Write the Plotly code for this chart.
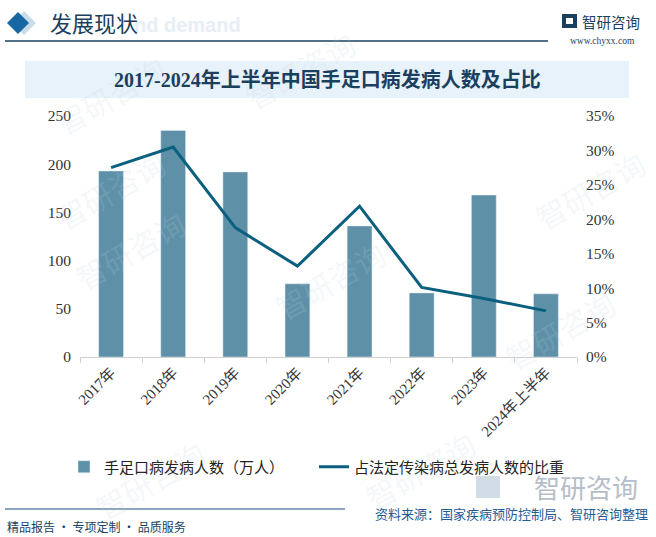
import plotly.graph_objects as go

categories = ["2017年", "2018年", "2019年", "2020年", "2021年", "2022年", "2023年", "2024年上半年"]
cases_10k = [193, 235, 192, 76, 136, 66.5, 168, 65.5]
share_pct = [0.275, 0.305, 0.188, 0.132, 0.219, 0.101, 0.085, 0.067]
left_ticks = [0, 50, 100, 150, 200, 250]
right_ticks = [0, 0.05, 0.10, 0.15, 0.20, 0.25, 0.30, 0.35]

W, H = 656, 537
L, R, T, B = 80, 577, 116, 357

def px(x):
    return (x - L) / (R - L)

def py(y):
    return (B - y) / (B - T)

SERIF = "Liberation Serif, Noto Sans CJK SC"
CJK = "Noto Sans CJK SC, Noto Sans"

fig = go.Figure()
fig.add_trace(go.Bar(
    x=categories, y=cases_10k, name="手足口病发病人数（万人）",
    marker=dict(color="#5E91A8"), yaxis="y",
))
fig.add_trace(go.Scatter(
    x=categories, y=share_pct, name="占法定传染病总发病人数的比重",
    mode="lines", line=dict(color="#0B5F7F", width=3), yaxis="y2",
))

shapes = []
annotations = []

def ann(x, y, text, size, color, family=CJK, xanchor="center", angle=0):
    annotations.append(dict(xref="paper", yref="paper", x=px(x), y=py(y), text=text, showarrow=False,
                            xanchor=xanchor, yanchor="middle", textangle=angle,
                            font=dict(family=family, size=size, color=color)))

# faint watermarks
wm = [(110, 95), (300, 70), (590, 190), (130, 250), (330, 280), (560, 330), (150, 480), (420, 470), (110, 190)]
for (x, y) in wm:
    ann(x, y, "智研咨询", 30, "rgba(190,210,228,0.16)", angle=-30)

# header
shapes.append(dict(type="path", xref="paper", yref="paper", layer="above",
                   path="M {} {} L {} {} L {} {} L {} {} Z".format(px(24), py(11), px(36), py(23), px(24), py(35), px(12), py(23)),
                   fillcolor="#c9dcea", line=dict(width=0)))
shapes.append(dict(type="path", xref="paper", yref="paper", layer="above",
                   path="M {} {} L {} {} L {} {} L {} {} Z".format(px(18), py(12), px(29), py(23), px(18), py(34), px(7), py(23)),
                   fillcolor="#1768A2", line=dict(width=0)))
ann(132, 25, "<b>nd demand</b>", 20, "#e6eef6", family="Liberation Sans", xanchor="left")
ann(48, 22, "发展现状", 22, "#1B3F5E", xanchor="left")
shapes.append(dict(type="line", xref="paper", yref="paper", x0=px(5), x1=px(548), y0=py(41), y1=py(41),
                   line=dict(color="#1B3F5E", width=1.5)))
# logo
shapes.append(dict(type="rect", xref="paper", yref="paper", x0=px(562), x1=px(577), y0=py(14), y1=py(28),
                   fillcolor="#1B3F5E", line=dict(width=0)))
shapes.append(dict(type="rect", xref="paper", yref="paper", x0=px(566), x1=px(573), y0=py(18), y1=py(24),
                   fillcolor="#ffffff", line=dict(width=0)))
ann(580, 21, "智研咨询", 14.5, "#1B3F5E", xanchor="left")
ann(602, 41, "www.chyxx.com", 9.5, "#1B3F5E", family="Liberation Serif")

# title box
shapes.append(dict(type="rect", xref="paper", yref="paper", x0=px(25), x1=px(629), y0=py(61), y1=py(98),
                   fillcolor="#E7F2FA", line=dict(width=0), layer="below"))
ann(327, 80, "<b>2017-2024年上半年中国手足口病发病人数及占比</b>", 20, "#1B3F5E", family=SERIF)

# footer
ann(640, 487, "智研咨询", 26, "#b5bec8", xanchor="right")
shapes.append(dict(type="rect", xref="paper", yref="paper", x0=px(476), x1=px(500), y0=py(476), y1=py(498),
                   fillcolor="#d2dce6", line=dict(width=0)))
shapes.append(dict(type="line", xref="paper", yref="paper", x0=px(5), x1=px(345), y0=py(509), y1=py(509),
                   line=dict(color="#1B4F7E", width=1.2)))
ann(650, 513, "资料来源：国家疾病预防控制局、智研咨询整理", 13, "#1F5C96", xanchor="right")
ann(5, 526, "精品报告 · 专项定制 · 品质服务", 12, "#1B3F5E", xanchor="left")

fig.update_layout(
    width=W, height=H,
    margin=dict(l=L, r=W - R, t=T, b=H - B),
    paper_bgcolor="white", plot_bgcolor="rgba(0,0,0,0)",
    bargap=0.6,
    showlegend=True,
    legend=dict(orientation="h", x=px(64), xanchor="left", y=py(467), yanchor="middle",
                font=dict(family=CJK, size=15, color="#222222"), itemwidth=30,
                bgcolor="rgba(0,0,0,0)", entrywidth=205, entrywidthmode="pixels"),
    xaxis=dict(tickangle=-45, tickfont=dict(family=SERIF, size=15, color="#333333"),
               showline=True, linecolor="#d0d0d0", linewidth=1, ticks="outside", tickson="boundaries",
               ticklen=5, tickcolor="#d0d0d0", showgrid=False),
    yaxis=dict(range=[0, 250], tickvals=left_ticks, showgrid=False, zeroline=False, showline=False,
               tickfont=dict(family=SERIF, size=15.5, color="#333333"), ticklabelstandoff=8),
    yaxis2=dict(range=[0, 0.35], tickvals=right_ticks, tickformat=".0%", overlaying="y", side="right",
                showgrid=False, zeroline=False, showline=False,
                tickfont=dict(family=SERIF, size=15.5, color="#333333"), ticklabelstandoff=8),
    shapes=shapes, annotations=annotations,
)

fig.write_html("out.html", config={"displayModeBar": False},
               post_script="document.body.style.margin='0px';")
